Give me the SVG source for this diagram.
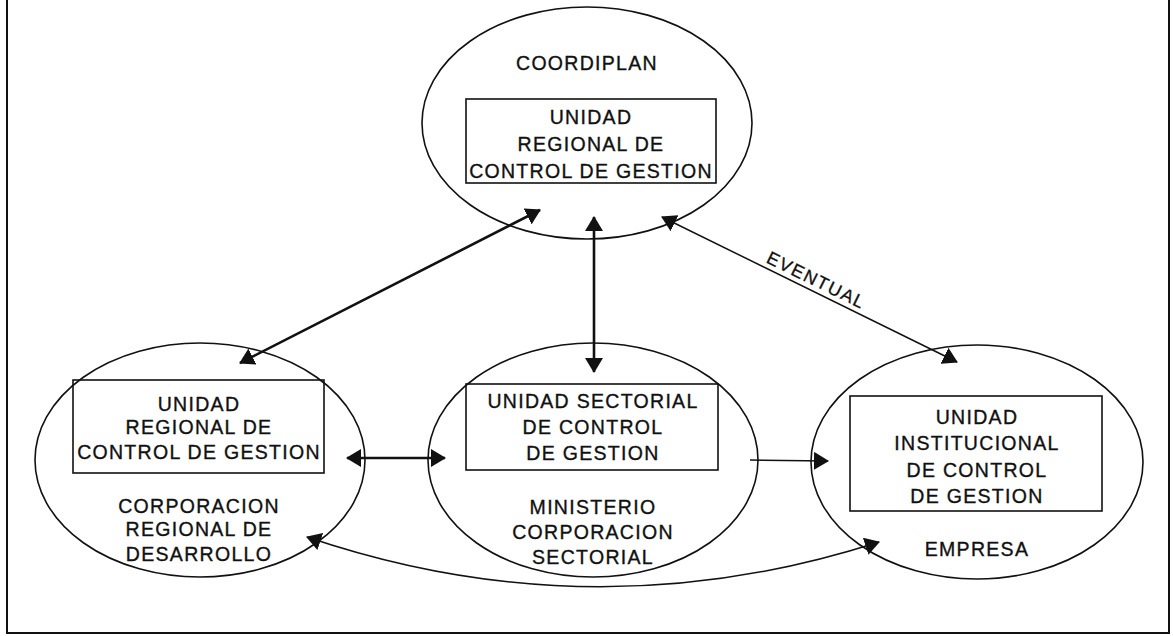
<svg xmlns="http://www.w3.org/2000/svg" width="1173" height="636" viewBox="0 0 1173 636">
<style>
  .oval{fill:none;stroke:#111;stroke-width:1.6}
  .box{fill:none;stroke:#111;stroke-width:1.6}
  .t{font-family:"Liberation Sans",Arial,sans-serif;font-size:19.5px;letter-spacing:1.3px;fill:#111;stroke:#111;stroke-width:0.35;text-anchor:middle}
  .lbl{font-family:"Liberation Sans",Arial,sans-serif;font-size:18px;letter-spacing:1.6px;fill:#111;stroke:#111;stroke-width:0.3;text-anchor:middle}
  .thick{fill:none;stroke:#111;stroke-width:2.6}
  .thin{fill:none;stroke:#111;stroke-width:1.5}
</style>
<defs>
  <marker id="ah" viewBox="0 0 15 18" refX="14" refY="9" markerWidth="15" markerHeight="18" markerUnits="userSpaceOnUse" orient="auto-start-reverse">
    <path d="M0,0 L15,9 L0,18 z" fill="#111"/>
  </marker>
</defs>
<rect width="1173" height="636" fill="#fff"/>
<path d="M7,0 V633 H1169 V0" fill="none" stroke="#111" stroke-width="2"/>

<g id="coordiplan">
  <ellipse class="oval" cx="587" cy="123" rx="165" ry="116"/>
  <text class="t" x="587" y="70">COORDIPLAN</text>
  <rect class="box" x="466" y="99" width="250" height="84"/>
  <text class="t" x="591" y="124">UNIDAD</text>
  <text class="t" x="591" y="151">REGIONAL DE</text>
  <text class="t" x="591" y="178">CONTROL DE GESTION</text>
</g>

<g id="corporacion-regional">
  <ellipse class="oval" cx="200" cy="460" rx="165" ry="117"/>
  <rect class="box" x="73" y="380" width="251" height="93"/>
  <text class="t" x="199" y="411">UNIDAD</text>
  <text class="t" x="199" y="434">REGIONAL DE</text>
  <text class="t" x="199" y="459">CONTROL DE GESTION</text>
  <text class="t" x="199" y="513">CORPORACION</text>
  <text class="t" x="199" y="536">REGIONAL DE</text>
  <text class="t" x="199" y="561">DESARROLLO</text>
</g>

<g id="ministerio">
  <ellipse class="oval" cx="593" cy="460" rx="165" ry="117"/>
  <rect class="box" x="466" y="384" width="252" height="86"/>
  <text class="t" x="593" y="408">UNIDAD SECTORIAL</text>
  <text class="t" x="593" y="434">DE CONTROL</text>
  <text class="t" x="593" y="460">DE GESTION</text>
  <text class="t" x="593" y="514">MINISTERIO</text>
  <text class="t" x="593" y="539">CORPORACION</text>
  <text class="t" x="593" y="564">SECTORIAL</text>
</g>

<g id="empresa">
  <ellipse class="oval" cx="977" cy="462" rx="166" ry="117"/>
  <rect class="box" x="850" y="396" width="252" height="115"/>
  <text class="t" x="977" y="424">UNIDAD</text>
  <text class="t" x="977" y="450">INSTITUCIONAL</text>
  <text class="t" x="977" y="477">DE CONTROL</text>
  <text class="t" x="977" y="503">DE GESTION</text>
  <text class="t" x="977" y="556">EMPRESA</text>
</g>

<g id="connectors">
  <line class="thick" x1="240" y1="363" x2="540" y2="210" marker-start="url(#ah)" marker-end="url(#ah)"/>
  <line class="thick" x1="594" y1="372" x2="594" y2="217" marker-start="url(#ah)" marker-end="url(#ah)"/>
  <line class="thin" x1="662" y1="217" x2="957" y2="362" marker-start="url(#ah)" marker-end="url(#ah)"/>
  <line class="thick" x1="347" y1="458" x2="445" y2="458" marker-start="url(#ah)" marker-end="url(#ah)"/>
  <line class="thin" x1="750" y1="460" x2="828" y2="461" marker-end="url(#ah)"/>
  <path class="thin" d="M307,537 Q593,634 879,542" marker-start="url(#ah)" marker-end="url(#ah)"/>
  <text class="lbl" x="815" y="286" transform="rotate(26.2 815 283)">EVENTUAL</text>
</g>
</svg>
